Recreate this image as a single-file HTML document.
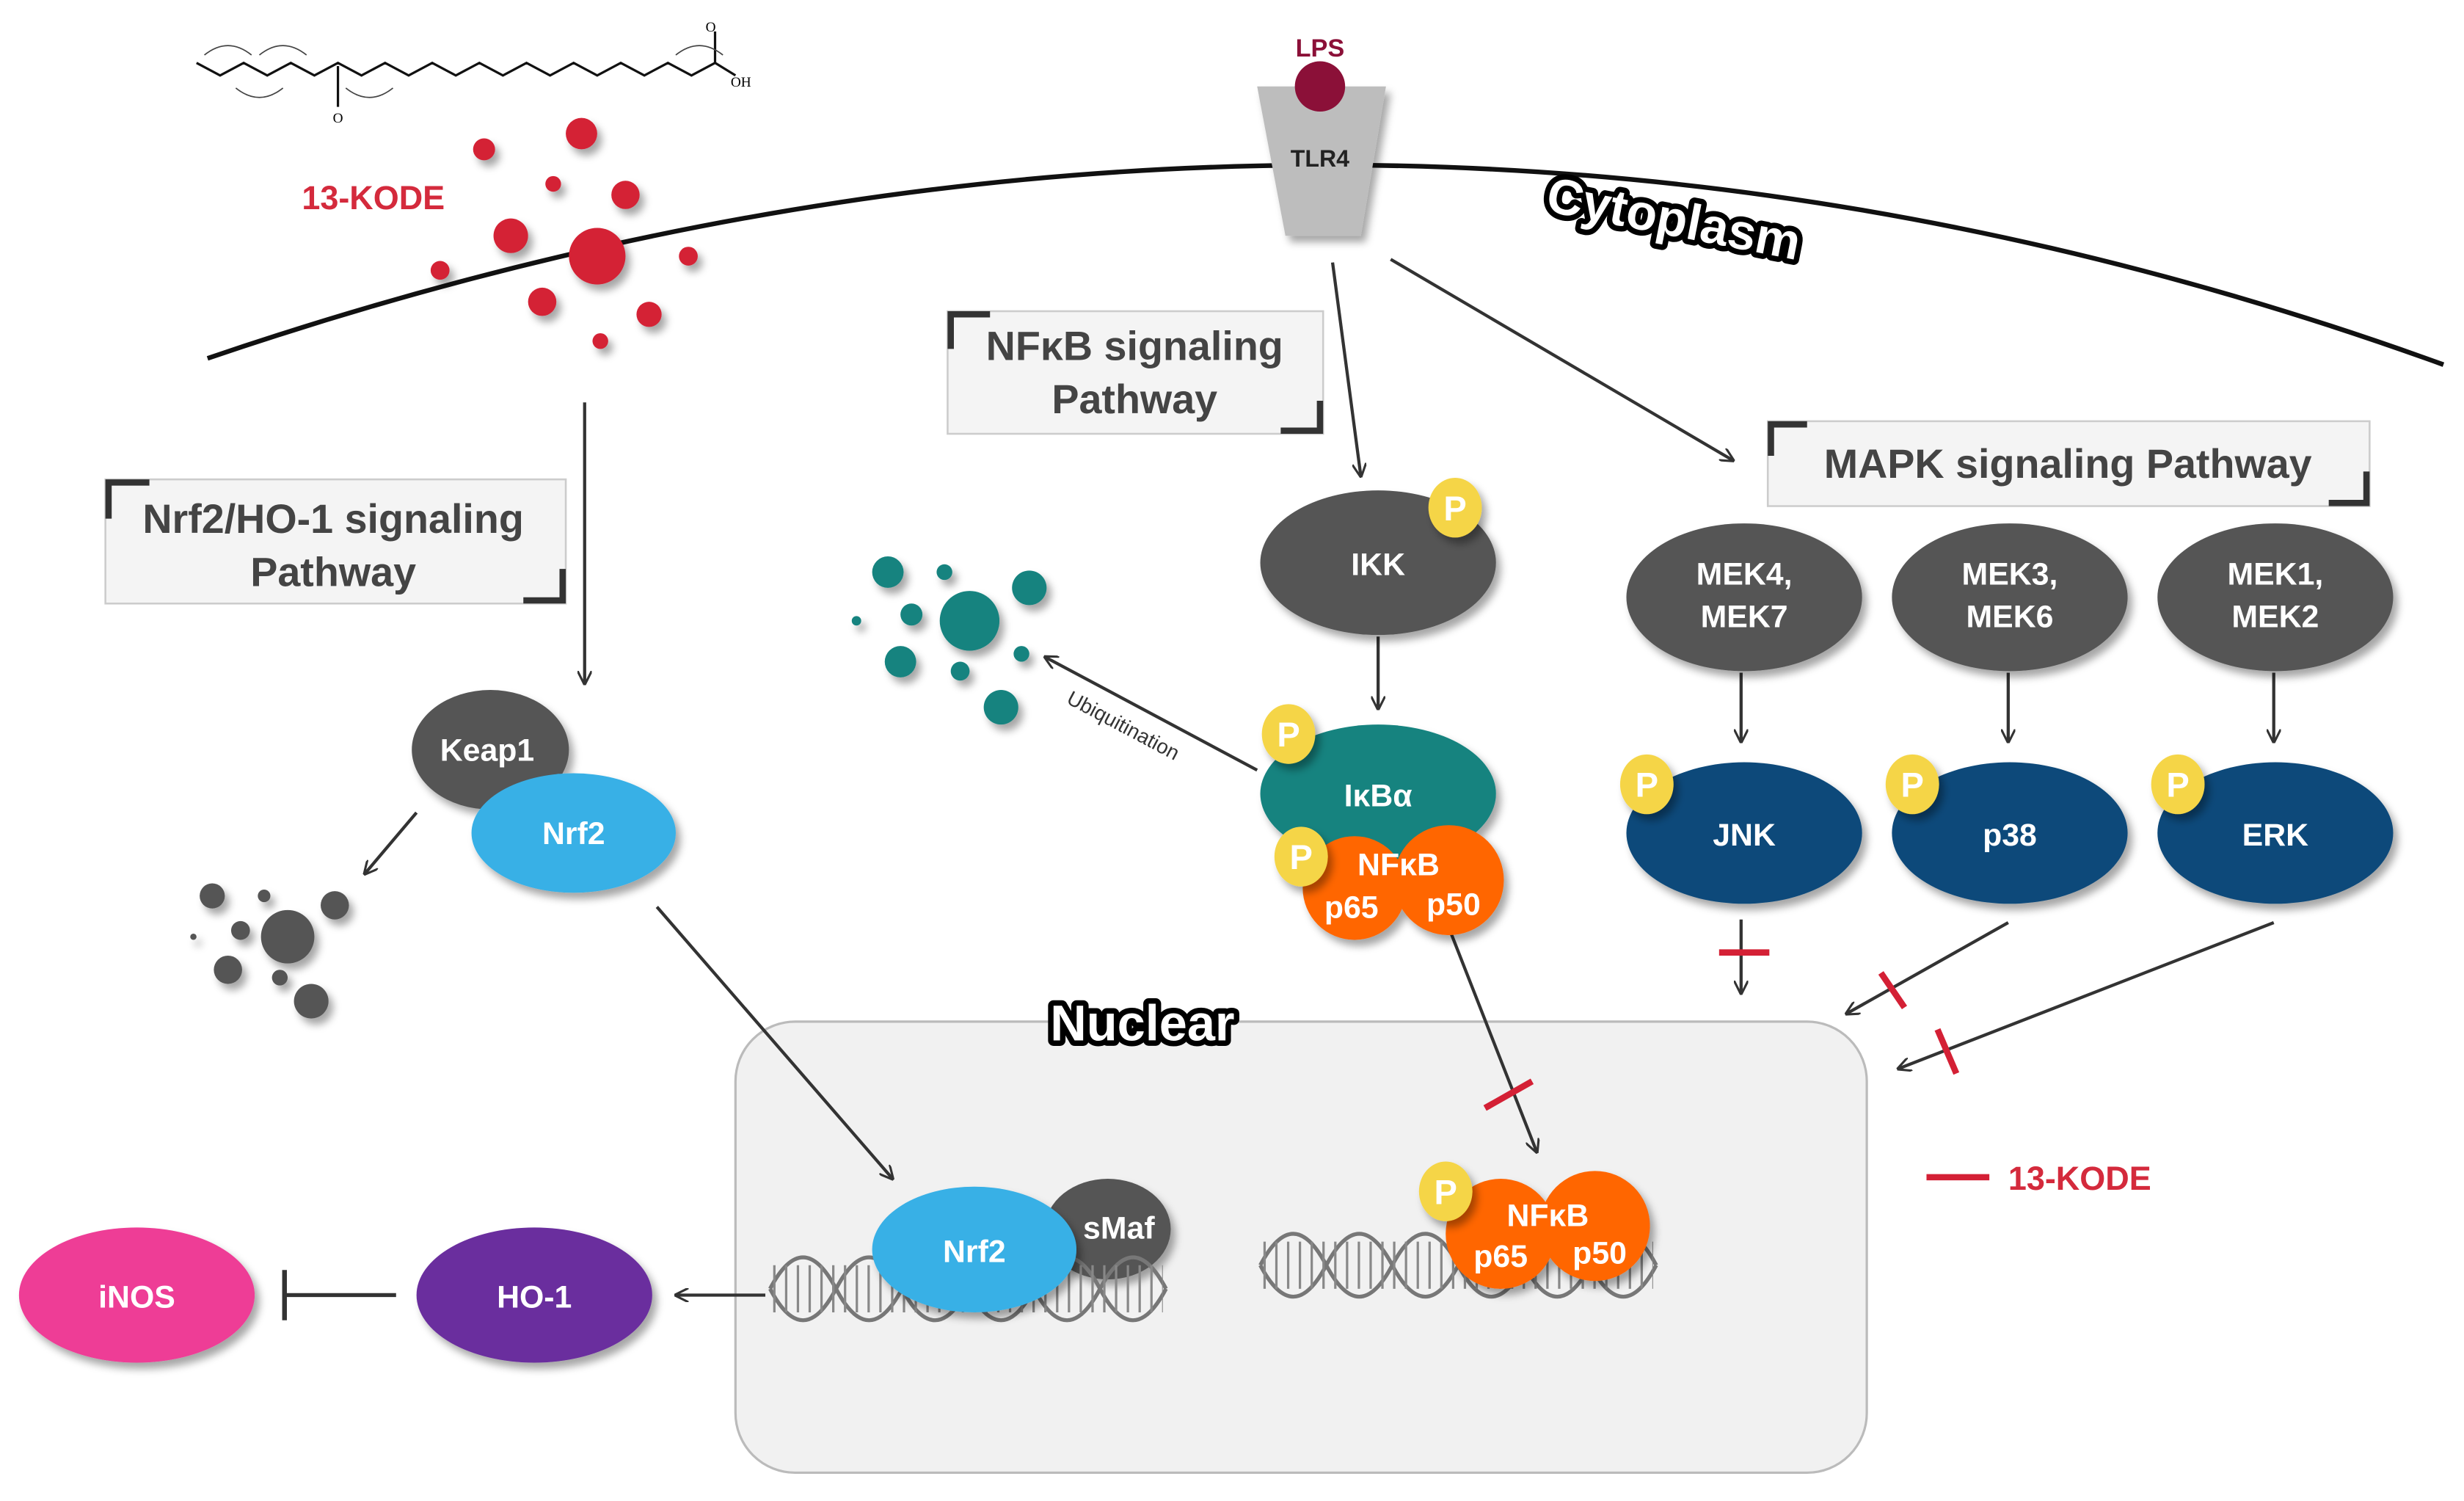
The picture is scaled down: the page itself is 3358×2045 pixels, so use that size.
<!DOCTYPE html>
<html><head><meta charset="utf-8"><style>html,body{margin:0;padding:0;background:#fff}svg{display:block}</style></head>
<body>
<svg width="3358" height="2045" viewBox="0 0 1568 955" xmlns="http://www.w3.org/2000/svg" font-family="Liberation Sans, sans-serif" font-weight="bold">
<defs>
<filter id="sh" x="-30%" y="-30%" width="160%" height="160%"><feDropShadow dx="3" dy="4" stdDeviation="2.5" flood-color="#000" flood-opacity="0.35"/></filter>
<marker id="ah" viewBox="0 0 10 10" refX="9" refY="5" markerWidth="9" markerHeight="9" orient="auto" markerUnits="userSpaceOnUse"><path d="M0,0 L10,5 L0,10" fill="none" stroke="#333" stroke-width="1.6"/></marker>
</defs>
<!-- nucleus -->
<rect x="468" y="650" width="720" height="287" rx="38" fill="#f1f1f1" stroke="#bbb" stroke-width="1.5"/>
<!-- membrane -->
<path d="M132,228 Q860,-20 1555,232" fill="none" stroke="#111" stroke-width="3"/>
<!-- molecule -->
<g fill="none" stroke="#111" stroke-width="1.5">
<polyline points="125,40 140,48 155,40 170,48 185,40 200,48 215,40 230,48 245,40 260,48 275,40 290,48 305,40 320,48 335,40 350,48 365,40 380,48 395,40 410,48 425,40 440,48 455,40"/>
<line x1="215" y1="42" x2="215" y2="68"/><line x1="455" y1="40" x2="455" y2="20"/><line x1="455" y1="40" x2="468" y2="48"/>
<g stroke="#444" stroke-width="0.8"><path d="M130,35 q15,-12 30,0"/><path d="M165,35 q15,-12 30,0"/><path d="M150,56 q15,12 30,0"/><path d="M220,56 q15,12 30,0"/><path d="M430,35 q15,-12 30,0"/></g>
</g>
<text x="215" y="78" font-size="9" font-weight="normal" text-anchor="middle" font-family="Liberation Serif, serif">O</text>
<text x="449" y="20" font-size="9" font-weight="normal" font-family="Liberation Serif, serif">O</text>
<text x="465" y="55" font-size="9" font-weight="normal" font-family="Liberation Serif, serif">OH</text>
<!-- red dots -->
<g fill="#d42035" filter="url(#sh)">
<circle cx="380" cy="163" r="18"/><circle cx="370" cy="85" r="10"/><circle cx="308" cy="95" r="7"/><circle cx="352" cy="117" r="5"/><circle cx="398" cy="124" r="9"/><circle cx="325" cy="150" r="11"/><circle cx="280" cy="172" r="6"/><circle cx="438" cy="163" r="6"/><circle cx="345" cy="192" r="9"/><circle cx="413" cy="200" r="8"/><circle cx="382" cy="217" r="5"/>
</g>
<text x="192" y="133" font-size="21" fill="#d42a3c">13-KODE</text>
<!-- TLR4 -->
<polygon points="800,55 882,55 866,150 818,150" fill="#bdbdbd" filter="url(#sh)"/>
<circle cx="840" cy="55" r="16" fill="#8b1038"/>
<text x="840" y="36" font-size="16" fill="#8b1038" text-anchor="middle">LPS</text>
<text x="840" y="106" font-size="15" fill="#222" text-anchor="middle">TLR4</text>
<!-- Cytoplasm -->
<text x="1065" y="150" font-size="32" text-anchor="middle" transform="rotate(11 1065 140)" fill="#fff" stroke="#000" stroke-width="7" paint-order="stroke" stroke-linejoin="round">Cytoplasm</text>
<!-- boxes -->
<g fill="#f4f4f4" stroke="#ccc" stroke-width="1.2"><rect x="603" y="198" width="239" height="78"/><rect x="67" y="305" width="293" height="79"/><rect x="1125" y="268" width="383" height="54"/></g>
<g fill="none" stroke="#333" stroke-width="4">
<path d="M605,222 V200 H630"/><path d="M815,274 H840 V255"/>
<path d="M69,330 V307 H95"/><path d="M333,382 H358 V362"/>
<path d="M1127,290 V270 H1150"/><path d="M1482,320 H1506 V300"/>
</g>
<g fill="#444" font-size="26" text-anchor="middle">
<text x="722" y="229">NFκB signaling</text><text x="722" y="263">Pathway</text>
<text x="212" y="339">Nrf2/HO-1 signaling</text><text x="212" y="373">Pathway</text>
<text x="1316" y="304">MAPK signaling Pathway</text>
</g>
<!-- arrows -->
<g stroke="#333" stroke-width="2" fill="none" marker-end="url(#ah)">
<line x1="372" y1="256" x2="372" y2="435"/>
<line x1="848" y1="167" x2="866" y2="303"/>
<line x1="885" y1="165" x2="1103" y2="293"/>
<line x1="877" y1="405" x2="877" y2="451"/>
<line x1="1108" y1="428" x2="1108" y2="472"/><line x1="1278" y1="428" x2="1278" y2="472"/><line x1="1447" y1="428" x2="1447" y2="472"/>
<line x1="800" y1="490" x2="665" y2="418"/>
<line x1="265" y1="517" x2="232" y2="556"/>
<line x1="418" y1="577" x2="568" y2="750"/>
<line x1="918" y1="580" x2="978" y2="733"/>
<line x1="1108" y1="585" x2="1108" y2="632"/>
<line x1="1278" y1="587" x2="1175" y2="645"/>
<line x1="1447" y1="587" x2="1208" y2="680"/>
<line x1="487" y1="824" x2="430" y2="824"/>
</g>
<line x1="252" y1="824" x2="182" y2="824" stroke="#333" stroke-width="2.5"/>
<line x1="181" y1="808" x2="181" y2="840" stroke="#333" stroke-width="3"/>
<text x="0" y="0" font-size="13" font-weight="normal" fill="#333" transform="translate(678,447) rotate(28)">Ubiquitination</text>
<!-- red bars -->
<g stroke="#d42035" stroke-width="4">
<line x1="1094" y1="606" x2="1126" y2="606"/>
<line x1="1197" y1="619" x2="1212" y2="641"/>
<line x1="1233" y1="655" x2="1245" y2="683"/>
<line x1="945" y1="705" x2="975" y2="688"/>
<line x1="1226" y1="749" x2="1266" y2="749"/>
</g>
<text x="1278" y="757" font-size="21" fill="#d42a3c">13-KODE</text>
<!-- teal dots -->
<g fill="#13837f" filter="url(#sh)">
<circle cx="617" cy="395" r="19"/><circle cx="565" cy="364" r="10"/><circle cx="601" cy="364" r="5"/><circle cx="655" cy="374" r="11"/><circle cx="580" cy="391" r="7"/><circle cx="545" cy="395" r="3"/><circle cx="573" cy="421" r="10"/><circle cx="611" cy="427" r="6"/><circle cx="650" cy="416" r="5"/><circle cx="637" cy="450" r="11"/>
</g>
<!-- gray dots -->
<g fill="#555" filter="url(#sh)">
<circle cx="183" cy="596" r="17"/><circle cx="135" cy="570" r="8"/><circle cx="168" cy="570" r="4"/><circle cx="213" cy="576" r="9"/><circle cx="153" cy="592" r="6"/><circle cx="123" cy="596" r="2"/><circle cx="145" cy="617" r="9"/><circle cx="178" cy="622" r="5"/><circle cx="198" cy="637" r="11"/>
</g>
<!-- nodes -->
<g filter="url(#sh)">
<ellipse cx="877" cy="358" rx="75" ry="46" fill="#555"/>
<ellipse cx="1110" cy="380" rx="75" ry="47" fill="#555"/><ellipse cx="1279" cy="380" rx="75" ry="47" fill="#555"/><ellipse cx="1448" cy="380" rx="75" ry="47" fill="#555"/>
<ellipse cx="1110" cy="530" rx="75" ry="45" fill="#0d4a7a"/><ellipse cx="1279" cy="530" rx="75" ry="45" fill="#0d4a7a"/><ellipse cx="1448" cy="530" rx="75" ry="45" fill="#0d4a7a"/>
<ellipse cx="877" cy="505" rx="75" ry="44" fill="#13837f"/>
<circle cx="862" cy="565" r="33" fill="#ff6600"/><circle cx="922" cy="560" r="35" fill="#ff6600"/>
<ellipse cx="312" cy="477" rx="50" ry="38" fill="#555"/>
<ellipse cx="365" cy="530" rx="65" ry="38" fill="#38b0e6"/>
<ellipse cx="705" cy="782" rx="40" ry="32" fill="#555"/>
<ellipse cx="340" cy="824" rx="75" ry="43" fill="#6b2d9e"/>
<ellipse cx="87" cy="824" rx="75" ry="43" fill="#ee3d96"/>
</g>
<!-- DNA -->
<g fill="none" stroke="#777" stroke-width="2.5">
<path d="M490,820 Q511,780 532,820 T574,820 T616,820 T658,820 T700,820 T742,820"/>
<path d="M490,820 Q511,860 532,820 T574,820 T616,820 T658,820 T700,820 T742,820"/>
<line x1="492" y1="820" x2="740" y2="820" stroke-width="30" stroke-dasharray="1.5 6" stroke="#888"/>
<path d="M802,805 Q823,765 844,805 T886,805 T928,805 T970,805 T1012,805 T1054,805"/>
<path d="M802,805 Q823,845 844,805 T886,805 T928,805 T970,805 T1012,805 T1054,805"/>
<line x1="804" y1="805" x2="1052" y2="805" stroke-width="30" stroke-dasharray="1.5 6" stroke="#888"/>
</g>
<g filter="url(#sh)">
<ellipse cx="620" cy="795" rx="65" ry="40" fill="#38b0e6"/>
<circle cx="955" cy="785" r="35" fill="#ff6600"/><circle cx="1015" cy="780" r="35" fill="#ff6600"/>
</g>
<!-- P badges -->
<g fill="#f5d547" filter="url(#sh)">
<ellipse cx="926" cy="323" rx="17" ry="19"/><ellipse cx="820" cy="467" rx="17" ry="19"/><ellipse cx="828" cy="545" rx="17" ry="19"/>
<ellipse cx="1048" cy="499" rx="17" ry="19"/><ellipse cx="1217" cy="499" rx="17" ry="19"/><ellipse cx="1386" cy="499" rx="17" ry="19"/>
<ellipse cx="920" cy="758" rx="17" ry="19"/>
</g>
<g fill="#fff" font-size="22" text-anchor="middle">
<text x="926" y="331">P</text><text x="820" y="475">P</text><text x="828" y="553">P</text>
<text x="1048" y="507">P</text><text x="1217" y="507">P</text><text x="1386" y="507">P</text><text x="920" y="766">P</text>
</g>
<g fill="#fff" font-size="20" text-anchor="middle">
<text x="877" y="366">IKK</text>
<text x="1110" y="372">MEK4,</text><text x="1110" y="399">MEK7</text>
<text x="1279" y="372">MEK3,</text><text x="1279" y="399">MEK6</text>
<text x="1448" y="372">MEK1,</text><text x="1448" y="399">MEK2</text>
<text x="1110" y="538">JNK</text><text x="1279" y="538">p38</text><text x="1448" y="538">ERK</text>
<text x="877" y="513">IκBα</text>
<text x="890" y="557">NFκB</text><text x="860" y="584">p65</text><text x="925" y="582">p50</text>
<text x="310" y="484">Keap1</text><text x="365" y="537">Nrf2</text>
<text x="620" y="803">Nrf2</text><text x="712" y="788" fill="#fff">sMaf</text>
<text x="985" y="780">NFκB</text><text x="955" y="806">p65</text><text x="1018" y="804">p50</text>
<text x="340" y="832">HO-1</text><text x="87" y="832">iNOS</text>
</g>
<text x="727" y="662" font-size="32" text-anchor="middle" fill="#fff" stroke="#000" stroke-width="7" paint-order="stroke" stroke-linejoin="round">Nuclear</text>
</svg>
</body></html>
